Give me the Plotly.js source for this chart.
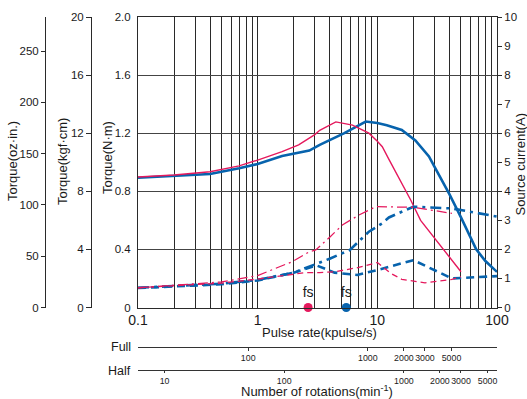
<!DOCTYPE html>
<html>
<head>
<meta charset="utf-8">
<script src="https://cdn.plot.ly/plotly-3.0.1.min.js"></script>
<style>
  html, body { margin: 0; padding: 0; background: #fff; }
  #chart { width: 527px; height: 399px; }
</style>
</head>
<body>
<div id="chart"></div>
<script>
// Pull-out torque (N·m) against pulse rate (kpulse/s)
const redTorqueRate  = [0.1, 0.2, 0.4, 0.7, 1, 1.6, 2.2, 3, 3.3, 4.5, 6.2, 8.5, 10, 11, 12.5, 19, 23, 50];
const redTorque      = [0.898, 0.912, 0.935, 0.975, 1.015, 1.073, 1.12, 1.19, 1.22, 1.278, 1.256, 1.2, 1.145, 1.107, 1.02, 0.74, 0.60, 0.246];
const blueTorqueRate = [0.1, 0.2, 0.4, 0.7, 1, 1.6, 2.7, 3.3, 5.3, 8, 10, 12, 16, 20.8, 27, 30, 40, 50, 67, 80, 100];
const blueTorque     = [0.893, 0.905, 0.919, 0.958, 0.988, 1.043, 1.08, 1.12, 1.2, 1.28, 1.27, 1.255, 1.222, 1.15, 1.04, 0.97, 0.78, 0.62, 0.40, 0.32, 0.245];

// Source current (A) against pulse rate (kpulse/s)
const redDashDotRate  = [0.1, 0.3, 0.5, 1, 1.95, 2.7, 3.06, 4, 5.1, 7, 8.5, 9.7, 20, 42];
const redDashDotAmp   = [0.68, 0.8, 0.88, 1.1, 1.58, 1.92, 1.98, 2.42, 2.84, 3.18, 3.36, 3.47, 3.45, 3.24];
const blueDashDotRate = [0.1, 0.3, 0.5, 1, 2, 3, 4, 5.9, 8.5, 11, 12.5, 20, 42, 100];
const blueDashDotAmp  = [0.68, 0.76, 0.82, 0.95, 1.2, 1.48, 1.68, 1.98, 2.61, 2.9, 3.1, 3.47, 3.41, 3.13];
const redDashRate     = [0.1, 0.3, 0.5, 1, 2, 2.5, 3.3, 4.4, 7, 10, 12.9, 16, 25, 42, 50];
const redDashAmp      = [0.68, 0.78, 0.84, 0.98, 1.14, 1.2, 1.2, 1.23, 1.38, 1.55, 1.18, 0.97, 0.85, 0.97, 1.06];
const blueDashRate    = [0.1, 0.3, 0.5, 1, 2, 3.1, 4.4, 6.8, 10, 20, 42, 100];
const blueDashAmp     = [0.67, 0.75, 0.8, 0.93, 1.2, 1.45, 1.2, 1.12, 1.29, 1.63, 1.0, 1.08];

// Starting frequency fs (kpulse/s)
const fsRates  = [2.64, 5.5];
const fsLabels = ['fs', 'fs'];

// Axis ticks
const rateDecades      = [0.1, 1, 10, 100];
const rateDecadeLabels = ['0.1', '1', '10', '100'];
const torqueNmTicks    = [0, 0.4, 0.8, 1.2, 1.6, 2.0];
const torqueNmLabels   = ['0', '0.4', '0.8', '1.2', '1.6', '2.0'];
const torqueKgfTicks   = [0, 4, 8, 12, 16, 20];
const torqueOzTicks    = [0, 50, 100, 150, 200, 250];
const currentTicks     = [0, 1, 2, 3, 4, 5, 6, 7, 8, 9, 10];
const fullRpmTicks     = [100, 1000, 2000, 3000, 5000];
const halfRpmTicks     = [10, 100, 1000, 2000, 3000, 5000];

const RED = '#e5195d';
const BLUE = '#0763ad';
const INK = '#1a1a1a';
const FONT = 'Liberation Sans, Arial, Helvetica, sans-serif';
const NARROW = 'Liberation Sans Narrow, Arial Narrow, Liberation Sans, sans-serif';

const W = 527, H = 399;
const px = v => v / W;          // horizontal pixel -> paper fraction
const py = v => (H - v) / H;    // vertical pixel -> paper fraction

// Grid on every 1..9 multiple of each decade, labels on the decades only
const rateGridVals = [], rateGridText = [];
rateDecades.forEach((d, i) => {
  const last = i === rateDecades.length - 1;
  for (let k = 1; k <= (last ? 1 : 9); k++) {
    rateGridVals.push(k * d);
    rateGridText.push(k === 1 ? rateDecadeLabels[i] : '');
  }
});

const NM_TO_OZIN = 141.612;
const PULSES_FULL = 500;   // pulses per revolution, full step
const PULSES_HALF = 1000;  // pulses per revolution, half step
const rpm = (kpps, ppr) => kpps * 1000 * 60 / ppr;

const xDomain = [px(138), px(497)];
const yDomain = [py(307.5), py(17)];

// Empty traces so that the secondary scales get their own subplots and are drawn
const scaleHolder = (xa, ya) => ({ x: [], y: [], type: 'scatter', mode: 'lines',
  xaxis: xa, yaxis: ya, hoverinfo: 'skip', showlegend: false });

const traces = [
  scaleHolder('x2', 'y'), scaleHolder('x3', 'y'),
  scaleHolder('x', 'y3'), scaleHolder('x', 'y4'),
  { x: blueTorqueRate, y: blueTorque, type: 'scatter', mode: 'lines', xaxis: 'x', yaxis: 'y',
    line: { color: BLUE, width: 2.6 }, hoverinfo: 'skip' },
  { x: blueDashDotRate, y: blueDashDotAmp, type: 'scatter', mode: 'lines', xaxis: 'x', yaxis: 'y2',
    line: { color: BLUE, width: 2.6, dash: '11px,5px,3px,5px' }, hoverinfo: 'skip' },
  { x: blueDashRate, y: blueDashAmp, type: 'scatter', mode: 'lines', xaxis: 'x', yaxis: 'y2',
    line: { color: BLUE, width: 2.6, dash: '8px,5px' }, hoverinfo: 'skip' },
  { x: redTorqueRate, y: redTorque, type: 'scatter', mode: 'lines', xaxis: 'x', yaxis: 'y',
    line: { color: RED, width: 1.4 }, hoverinfo: 'skip' },
  { x: redDashDotRate, y: redDashDotAmp, type: 'scatter', mode: 'lines', xaxis: 'x', yaxis: 'y2',
    line: { color: RED, width: 1.3, dash: '10px,4px,2px,4px' }, hoverinfo: 'skip' },
  { x: redDashRate, y: redDashAmp, type: 'scatter', mode: 'lines', xaxis: 'x', yaxis: 'y2',
    line: { color: RED, width: 1.3, dash: '6px,4px' }, hoverinfo: 'skip' },
  { x: fsRates, y: [0, 0], type: 'scatter', mode: 'markers+text', xaxis: 'x', yaxis: 'y',
    text: fsLabels, textposition: 'top center', cliponaxis: false,
    textfont: { family: FONT, size: 14, color: INK },
    marker: { size: 9, color: [RED, BLUE] }, hoverinfo: 'skip' }
];

const title = (text, x, y, opts = {}) => Object.assign({
  text, x: px(x), y: py(y), xref: 'paper', yref: 'paper', showarrow: false,
  xanchor: 'center', yanchor: 'middle', font: { family: FONT, size: 13, color: INK }
}, opts);

const freeY = (pos, range, ticks, len) => ({
  overlaying: 'y', anchor: 'free', position: pos, side: 'left', range,
  tickmode: 'array', tickvals: ticks, tickangle: 0,
  tickfont: { size: 11.5 }, ticks: 'outside', ticklen: len, tickcolor: '#2a2a2a',
  showgrid: false, showline: true, linecolor: '#2a2a2a', linewidth: 1, zeroline: false
});

const freeX = (pos, range, ticks, len) => ({
  type: 'log', overlaying: 'x', anchor: 'free', position: pos, side: 'bottom', range,
  tickmode: 'array', tickvals: ticks, ticktext: ticks.map(String), tickangle: 0,
  tickfont: { family: NARROW, size: 8.8 }, ticks: 'outside', ticklen: len, tickcolor: '#333',
  showgrid: false, showline: true, linecolor: '#333', linewidth: 1, zeroline: false
});

const layout = {
  width: W, height: H,
  margin: { l: 0, r: 0, t: 0, b: 0, pad: 0 },
  paper_bgcolor: '#fff', plot_bgcolor: '#fff',
  showlegend: false,
  font: { family: FONT, color: INK, size: 12 },
  xaxis: {
    type: 'log', range: [-1, 2], domain: xDomain,
    tickmode: 'array', tickvals: rateGridVals, ticktext: rateGridText, tickangle: 0,
    tickfont: { size: 14 }, ticks: '', showgrid: true, gridcolor: '#2a2a2a', gridwidth: 1,
    showline: true, linecolor: '#2a2a2a', linewidth: 1, mirror: true, zeroline: false
  },
  // Full step rotation scale
  xaxis2: freeX(py(346.7), [Math.log10(rpm(0.1, PULSES_FULL)), Math.log10(rpm(100, PULSES_FULL))], fullRpmTicks, 3),
  // Half step rotation scale
  xaxis3: freeX(py(370.3), [Math.log10(rpm(0.1, PULSES_HALF)), Math.log10(rpm(100, PULSES_HALF))], halfRpmTicks, 2),
  yaxis: {
    range: [0, 2], domain: yDomain,
    tickmode: 'array', tickvals: torqueNmTicks, ticktext: torqueNmLabels,
    tickfont: { size: 11.5 }, ticks: '', ticklabelstandoff: 4,
    showgrid: true, gridcolor: '#444', gridwidth: 1.2,
    showline: true, linecolor: '#2a2a2a', linewidth: 1, zeroline: false
  },
  // Source current
  yaxis2: {
    overlaying: 'y', side: 'right', anchor: 'x', range: [0, 10],
    tickmode: 'array', tickvals: currentTicks,
    tickfont: { size: 11.5 }, ticks: 'outside', ticklen: 4, tickcolor: '#2a2a2a',
    showgrid: false, showline: true, linecolor: '#2a2a2a', linewidth: 1, zeroline: false
  },
  // kgf·cm scale
  yaxis3: freeY(px(91), [0, 20], torqueKgfTicks, 5),
  // oz·in scale
  yaxis4: freeY(px(45), [0, 2 * NM_TO_OZIN], torqueOzTicks, 4),
  annotations: [
    title('Torque(N·m)', 107, 158, { textangle: -90 }),
    title('Torque(kgf·cm)', 62, 162, { textangle: -90 }),
    title('Torque(oz·in.)', 12, 161, { textangle: -90 }),
    title('Source current(A)', 519.5, 164, { textangle: -90 }),
    title('Pulse rate(kpulse/s)', 319, 332),
    title('Full', 133, 346.5, { xanchor: 'right', font: { family: FONT, size: 12.5, color: INK } }),
    title('Half', 133, 370.5, { xanchor: 'right', font: { family: FONT, size: 12.5, color: INK } }),
    title('Number of rotations(min<sup>-1</sup>)', 317, 391.3)
  ]
};

Plotly.newPlot('chart', traces, layout, { staticPlot: true, displayModeBar: false });
</script>
</body>
</html>
